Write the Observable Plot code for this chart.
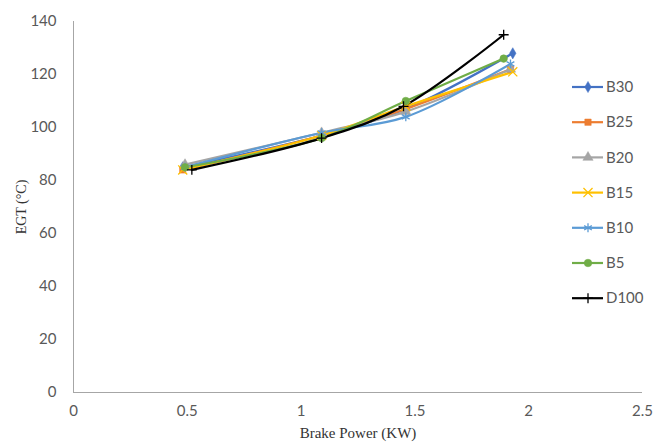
<!DOCTYPE html>
<html>
<head>
<meta charset="utf-8">
<script src="https://cdn.jsdelivr.net/npm/d3@7"></script>
<script src="https://cdn.jsdelivr.net/npm/@observablehq/plot@0.6"></script>
<style>
  body { margin: 0; background: #fff; }
  #wrap { position: relative; width: 655px; height: 447px; }
  #legend { position: absolute; left: 0; top: 0; }
</style>
</head>
<body>
<div id="wrap"></div>
<script>
const seriesNames = ["B30", "B25", "B20", "B15", "B10", "B5", "D100"];
const seriesColors = ["#4472C4", "#ED7D31", "#A5A5A5", "#FFC000", "#5B9BD5", "#70AD47", "#000000"];
const seriesSymbols = ["diamond", "square", "triangle", "times", "asterisk", "circle", "plus"];
const xB30 = [0.48, 1.09, 1.46, 1.93];
const yB30 = [85, 97, 107, 128];
const xB25 = [0.48, 1.09, 1.46, 1.92];
const yB25 = [84, 97, 107, 122];
const xB20 = [0.49, 1.09, 1.46, 1.92];
const yB20 = [86, 98, 106, 122];
const xB15 = [0.48, 1.09, 1.46, 1.93];
const yB15 = [84, 97, 108, 121];
const xB10 = [0.49, 1.09, 1.46, 1.92];
const yB10 = [85, 98, 104, 124];
const xB5 = [0.49, 1.09, 1.46, 1.89];
const yB5 = [85, 96, 110, 126];
const xD100 = [0.52, 1.09, 1.45, 1.89];
const yD100 = [84, 96, 108, 135];
const xTicks = [0, 0.5, 1, 1.5, 2, 2.5];
const yTicks = [0, 20, 40, 60, 80, 100, 120, 140];
const xLabel = "Brake Power (KW)";
const yLabel = "EGT (°C)";

const symR = {diamond: 3.4, square: 3.6, triangle: 3.8, times: 4.2, asterisk: 4.2, circle: 3.8, plus: 3.3};
const xs = [xB30, xB25, xB20, xB15, xB10, xB5, xD100];
const ys = [yB30, yB25, yB20, yB15, yB10, yB5, yD100];
const rows = [];
seriesNames.forEach((s, i) => xs[i].forEach((x, j) => rows.push({series: s, x, y: ys[i][j], idx: i})));

const lineMarks = [];
const dotMarks = [];
seriesNames.forEach((s, i) => {
  const d = rows.filter(r => r.series === s);
  lineMarks.push(Plot.line(d, {x: "x", y: "y", stroke: seriesColors[i], strokeWidth: 2.2, curve: "catmull-rom"}));
  const sym = seriesSymbols[i];
  const filled = ["diamond", "square", "triangle", "circle"].includes(sym);
  dotMarks.push(Plot.dot(d, {x: "x", y: "y", symbol: () => sym, r: symR[sym],
    fill: filled ? seriesColors[i] : "none", stroke: seriesColors[i], strokeWidth: filled ? 0.5 : 1.3}));
});

const plot = Plot.plot({
  width: 655,
  height: 447,
  marginLeft: 73,
  marginRight: 13,
  marginTop: 21,
  marginBottom: 55,
  style: {fontFamily: "Lato, sans-serif", fontSize: "15px", color: "#595959", background: "#fff"},
  symbol: {type: "identity"},
  x: {domain: [0, 2.5], ticks: xTicks, tickFormat: d => String(d)},
  y: {domain: [0, 140], ticks: yTicks},
  marks: [
    Plot.axisX({ticks: xTicks, tickSize: 0, tickPadding: 13, label: null, tickFormat: d => String(d), fill: "#595959"}),
    Plot.axisY({ticks: yTicks, tickSize: 0, tickPadding: 17, label: null, fill: "#595959"}),
    Plot.ruleY([0], {stroke: "#a6a6a6", strokeWidth: 1}),
    Plot.ruleX([0], {stroke: "#a6a6a6", strokeWidth: 1}),
    ...lineMarks,
    ...dotMarks,
    Plot.text([xLabel], {frameAnchor: "bottom", dy: 45, fontFamily: "Liberation Serif, serif", fontSize: 15, fill: "#333"}),
    Plot.text([yLabel], {frameAnchor: "left", textAnchor: "middle", dx: -52, rotate: -90, fontFamily: "Liberation Serif, serif", fontSize: 14, fill: "#333"})
  ]
});
const wrap = document.getElementById("wrap");
wrap.appendChild(plot);

// legend
const legend = d3.create("svg").attr("id", "legend").attr("width", 655).attr("height", 447);
const symMap = {diamond: d3.symbolDiamond, square: d3.symbolSquare, triangle: d3.symbolTriangle, times: d3.symbolTimes, asterisk: d3.symbolAsterisk, circle: d3.symbolCircle, plus: d3.symbolPlus};
seriesNames.forEach((s, i) => {
  const yy = 87 + i * 35.2;
  const g = legend.append("g").attr("transform", `translate(0,${yy})`);
  g.append("line").attr("x1", 572).attr("x2", 603).attr("stroke", seriesColors[i]).attr("stroke-width", 2.2);
  const sym = seriesSymbols[i];
  const filled = ["diamond", "square", "triangle", "circle"].includes(sym);
  const r = symR[sym];
  g.append("path").attr("transform", "translate(588,0)")
    .attr("d", d3.symbol(symMap[sym], Math.PI * r * r)())
    .attr("fill", filled ? seriesColors[i] : "none")
    .attr("stroke", seriesColors[i]).attr("stroke-width", filled ? 0.5 : 1.3);
  g.append("text").attr("x", 606).attr("y", 0).attr("dy", "0.35em")
    .attr("font-family", "Lato, sans-serif").attr("font-size", 15).attr("fill", "#595959").text(s);
});
wrap.appendChild(legend.node());
</script>
</body>
</html>
